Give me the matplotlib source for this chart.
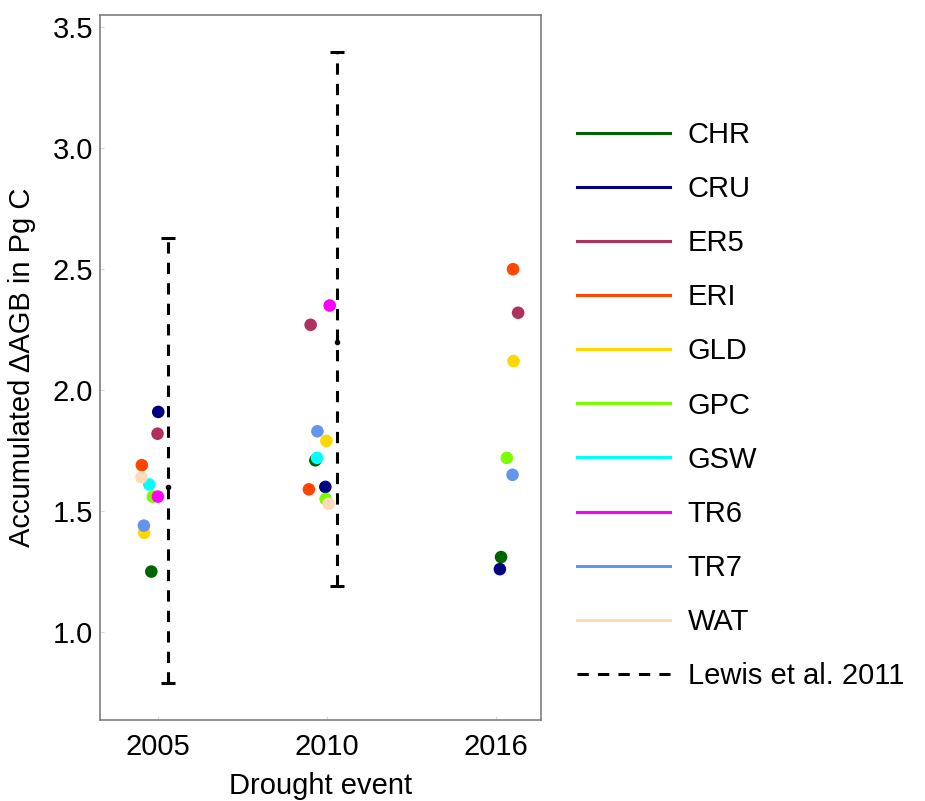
import matplotlib
matplotlib.use('Agg')
import matplotlib.pyplot as plt
from matplotlib.lines import Line2D
import numpy as np

plt.rcParams['font.family'] = ['Liberation Sans', 'DejaVu Sans']

# Datos
eventos = ['2005', '2010', '2016']
productos = ['CHR', 'CRU', 'ER5', 'ERI', 'GLD', 'GPC', 'GSW', 'TR6', 'TR7', 'WAT']
nan = np.nan
chr_vals = [1.25, 1.71, 1.31]
cru_vals = [1.91, 1.60, 1.26]
er5_vals = [1.82, 2.27, 2.32]
eri_vals = [1.69, 1.59, 2.50]
gld_vals = [1.41, 1.79, 2.12]
gpc_vals = [1.56, 1.55, 1.72]
gsw_vals = [1.61, 1.72, nan]
tr6_vals = [1.56, 2.35, nan]
tr7_vals = [1.44, 1.83, 1.65]
wat_vals = [1.64, 1.53, nan]
valores = [chr_vals, cru_vals, er5_vals, eri_vals, gld_vals,
           gpc_vals, gsw_vals, tr6_vals, tr7_vals, wat_vals]

# Lewis et al. 2011 (media, minimo, maximo) para 2005 y 2010
lewis_media = [1.6, 2.2]
lewis_min = [0.79, 1.19]
lewis_max = [2.63, 3.40]

colores = ['#006400', '#000080', '#B03060', '#FF4500', '#FFD700',
           '#7CFC00', '#00FFFF', '#FF00FF', '#6495ED', '#FFDAB9']

# desplazamiento horizontal (jitter) de cada punto, en unidades de categoria
jitter = [[-0.037, -0.067, 0.031],
          [0.004, -0.008, 0.024],
          [0.000, -0.095, 0.132],
          [-0.093, -0.105, 0.102],
          [-0.079, -0.002, 0.105],
          [-0.028, -0.006, 0.065],
          [-0.049, -0.057, 0.0],
          [0.002, 0.018, 0.0],
          [-0.081, -0.055, 0.099],
          [-0.095, 0.012, 0.0]]
desp_lewis = 0.062

fig = plt.figure(figsize=(9.25, 8.01), dpi=100)
ax = fig.add_axes([0.108, 0.101, 0.477, 0.880])

x = np.arange(len(eventos))
for vals, col, jit in zip(valores, colores, jitter):
    ax.scatter(x + np.array(jit), vals, s=82, color=col, edgecolors='none', zorder=3)

guion = (0, (3.7, 3))
xl = x[:2] + desp_lewis
eb = ax.errorbar(xl, lewis_media,
                 yerr=[np.array(lewis_media) - np.array(lewis_min),
                       np.array(lewis_max) - np.array(lewis_media)],
                 fmt='o', color='black', markersize=3, elinewidth=2.2,
                 capsize=5, capthick=2.2, zorder=4)
eb[2][0].set_linestyle(guion)

ax.set_xlim(-0.341, 2.268)
ax.set_ylim(0.636, 3.55)
ax.set_xticks(x)
ax.set_xticklabels(eventos)
ax.set_yticks([1.0, 1.5, 2.0, 2.5, 3.0, 3.5])
ax.set_yticklabels(['1.0', '1.5', '2.0', '2.5', '3.0', '3.5'])
ax.tick_params(axis='both', labelsize=21, length=3, direction='in',
               color='#d9d9d9', width=0.8)
ax.tick_params(axis='y', pad=5)
ax.tick_params(axis='x', pad=9)
for s in ax.spines.values():
    s.set_color('#7f7f7f')
    s.set_linewidth(1.2)

ax.set_xlabel('Drought event', fontsize=21, labelpad=8)
ax.set_ylabel('Accumulated ΔAGB in Pg C', fontsize=21, labelpad=12)

# Leyenda
handles = [Line2D([0], [0], color=c, lw=2.2) for c in colores]
handles.append(Line2D([0], [0], color='black', lw=2.2, linestyle=guion))
etiquetas = productos + ['Lewis et al. 2011']
fig.legend(handles, etiquetas, loc='upper left', bbox_to_anchor=(577 / 925, 1 - 121 / 801),
           frameon=False, fontsize=21, handlelength=3.2, handletextpad=0.6,
           labelspacing=0.895, borderpad=0, borderaxespad=0)

plt.savefig('out.png', dpi=100)
